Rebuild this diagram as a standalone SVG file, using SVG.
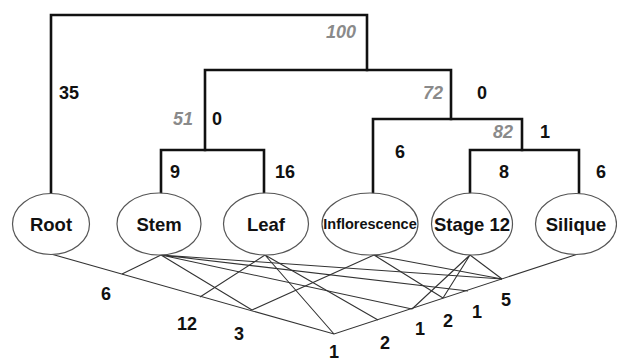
<svg xmlns="http://www.w3.org/2000/svg" width="617" height="362" viewBox="0 0 617 362">
<style>
.tree{fill:none;stroke:#111;stroke-width:2.6;stroke-linecap:square}
.net{fill:none;stroke:#333;stroke-width:1.1}
.node ellipse{fill:#fff;stroke:#555;stroke-width:1.2}
.lbl{font-family:"Liberation Sans",Arial,sans-serif;font-weight:bold;font-size:18px;fill:#111}
.boot{font-family:"Liberation Sans",Arial,sans-serif;font-weight:bold;font-style:italic;font-size:18px;fill:#8a8a8a}
.nt{font-family:"Liberation Sans",Arial,sans-serif;font-weight:bold;font-size:18.5px;fill:#111;text-anchor:middle}
</style>
<rect width="617" height="362" fill="#fff"/>
<g id="tree">
<path class="tree" d="M51,193 V15 H367 V70"/>
<path class="tree" d="M205,150 V70 H451 V119"/>
<path class="tree" d="M161,193 V150 H264 V193"/>
<path class="tree" d="M373,193 V119 H522 V150"/>
<path class="tree" d="M470,193 V150 H579 V193"/>
</g>
<g id="tree-labels">
<text class="lbl" x="59" y="99">35</text>
<text class="boot" x="173" y="125">51</text>
<text class="lbl" x="212" y="125">0</text>
<text class="lbl" x="170" y="178">9</text>
<text class="lbl" x="275" y="178">16</text>
<text class="boot" x="326" y="38">100</text>
<text class="boot" x="423" y="99">72</text>
<text class="lbl" x="477" y="99">0</text>
<text class="boot" x="493" y="138">82</text>
<text class="lbl" x="540" y="138">1</text>
<text class="lbl" x="395" y="158">6</text>
<text class="lbl" x="499" y="178">8</text>
<text class="lbl" x="596" y="178">6</text>
</g>
<g id="connectors">
<path class="net" d="M51,254 L334,334 L578,254"/>
<path class="net" d="M161,255 L122,274 M161,255 L252,310 M161,255 L412,309 M161,255 L468,291 M161,255 L502,279"/>
<path class="net" d="M265,255 L200,297 M265,255 L334,334 M265,255 L378,320"/>
<path class="net" d="M374,255 L252,310 M374,255 L443,298 M374,255 L502,279"/>
<path class="net" d="M470,255 L412,309 M470,255 L443,298 M470,255 L502,279"/>
</g>
<g id="node-root" class="node"><ellipse cx="51" cy="224" rx="38.5" ry="30.5"/><text class="nt" x="51" y="231">Root</text></g>
<g id="node-stem" class="node"><ellipse cx="159" cy="224" rx="42" ry="31"/><text class="nt" x="159" y="231">Stem</text></g>
<g id="node-leaf" class="node"><ellipse cx="266" cy="224" rx="42.5" ry="31"/><text class="nt" x="266" y="231">Leaf</text></g>
<g id="node-inflorescence" class="node"><ellipse cx="370" cy="224" rx="48" ry="31"/><text class="nt" x="370" y="229" style="font-size:14.5px">Inflorescence</text></g>
<g id="node-stage12" class="node"><ellipse cx="472" cy="224" rx="40.5" ry="31"/><text class="nt" x="472" y="231">Stage 12</text></g>
<g id="node-silique" class="node"><ellipse cx="576" cy="224" rx="40.5" ry="30.5"/><text class="nt" x="576" y="231">Silique</text></g>
<g id="counts">
<text class="lbl" x="101" y="300">6</text>
<text class="lbl" x="177" y="330">12</text>
<text class="lbl" x="234" y="340">3</text>
<text class="lbl" x="329" y="358">1</text>
<text class="lbl" x="380" y="349">2</text>
<text class="lbl" x="415" y="335">1</text>
<text class="lbl" x="443" y="327">2</text>
<text class="lbl" x="472" y="318">1</text>
<text class="lbl" x="501" y="306">5</text>
</g>
</svg>
